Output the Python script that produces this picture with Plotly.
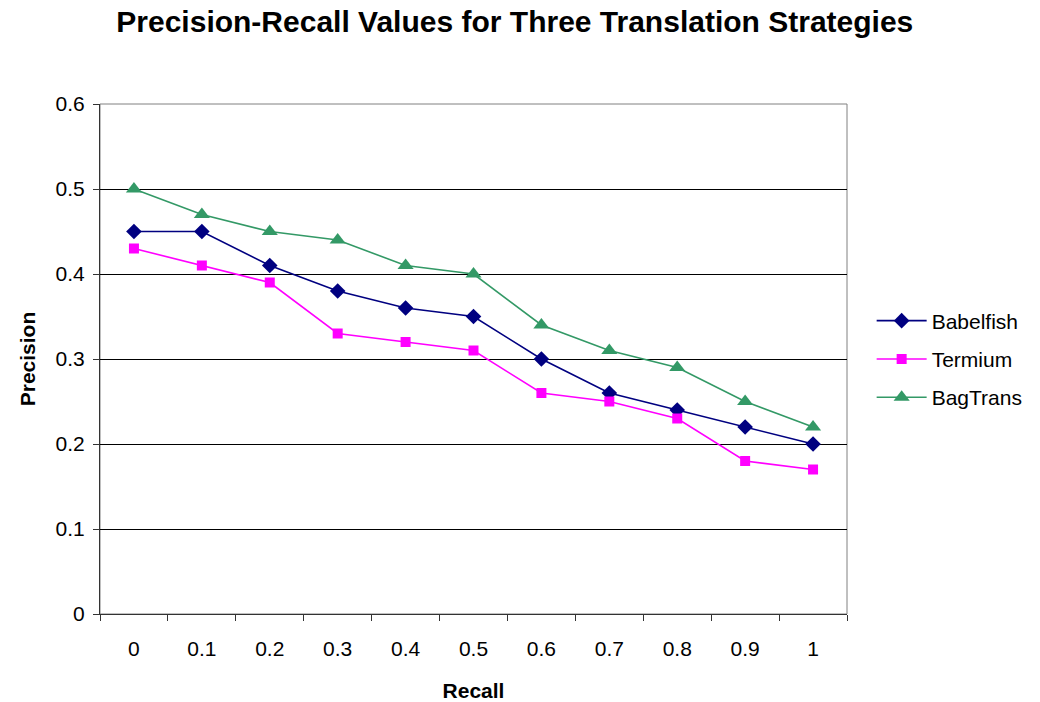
import plotly.graph_objects as go

recall = ["0", "0.1", "0.2", "0.3", "0.4", "0.5", "0.6", "0.7", "0.8", "0.9", "1"]
babelfish = [0.45, 0.45, 0.41, 0.38, 0.36, 0.35, 0.30, 0.26, 0.24, 0.22, 0.20]
termium = [0.43, 0.41, 0.39, 0.33, 0.32, 0.31, 0.26, 0.25, 0.23, 0.18, 0.17]
bagtrans = [0.50, 0.47, 0.45, 0.44, 0.41, 0.40, 0.34, 0.31, 0.29, 0.25, 0.22]
y_ticks = [0, 0.1, 0.2, 0.3, 0.4, 0.5, 0.6]
y_labels = ["0", "0.1", "0.2", "0.3", "0.4", "0.5", "0.6"]

FONT = "Arial, Liberation Sans, sans-serif"

fig = go.Figure()
fig.add_trace(go.Scatter(x=recall, y=babelfish, name="Babelfish", mode="lines+markers",
                         legendgroup="a",
                         line=dict(color="#000080", width=1.6),
                         marker=dict(symbol="diamond", size=12, color="#000080")))
fig.add_trace(go.Scatter(x=recall, y=termium, name="Termium", mode="lines+markers",
                         legendgroup="b",
                         line=dict(color="#FF00FF", width=1.6),
                         marker=dict(symbol="square", size=10, color="#FF00FF")))
fig.add_trace(go.Scatter(x=recall, y=bagtrans, name="BagTrans", mode="lines+markers",
                         legendgroup="c",
                         line=dict(color="#339966", width=1.6),
                         marker=dict(symbol="triangle-up", size=14, color="#339966")))

fig.update_layout(
    width=1040, height=702,
    margin=dict(l=100, r=190, t=104, b=88),
    paper_bgcolor="white", plot_bgcolor="white",
    font=dict(family=FONT, size=21, color="black"),
    title=dict(text="<b>Precision-Recall Values for Three Translation Strategies</b>",
               x=0.495, xanchor="center", y=0.969, yanchor="middle",
               font=dict(family=FONT, size=30, color="black")),
    legend=dict(x=1.033, y=0.5, xanchor="left", yanchor="middle",
                font=dict(family=FONT, size=21), tracegroupgap=8, itemwidth=50,
                bgcolor="rgba(0,0,0,0)"),
    showlegend=True,
)
fig.update_xaxes(
    type="category", range=[-0.5, 10.5], tickson="boundaries", ticks="outside", ticklen=6,
    tickcolor="#333333", showline=True, linecolor="#333333", linewidth=1,
    mirror=False, showgrid=False, zeroline=False, ticklabelstandoff=16, automargin=False,
    title=dict(text="<b>Recall</b>", font=dict(family=FONT, size=21), standoff=28),
    tickfont=dict(family=FONT, size=21),
)
fig.update_yaxes(
    range=[0, 0.6], tickvals=y_ticks, ticktext=y_labels, ticks="outside", ticklen=6,
    tickcolor="#333333", showline=True, linecolor="#333333", linewidth=1,
    showgrid=True, gridcolor="black", gridwidth=1, zeroline=False, ticklabelstandoff=4,
    automargin=False,
    title=dict(text="<b>Precision</b>", font=dict(family=FONT, size=21), standoff=14),
    tickfont=dict(family=FONT, size=21),
)
# gray frame on top and right
fig.add_shape(type="rect", xref="paper", yref="paper", x0=0, y0=0, x1=1, y1=1,
              line=dict(color="#808080", width=1), layer="below")

fig.write_html("out.html", config={"displayModeBar": False},
               post_script="document.body.style.margin='0';")
